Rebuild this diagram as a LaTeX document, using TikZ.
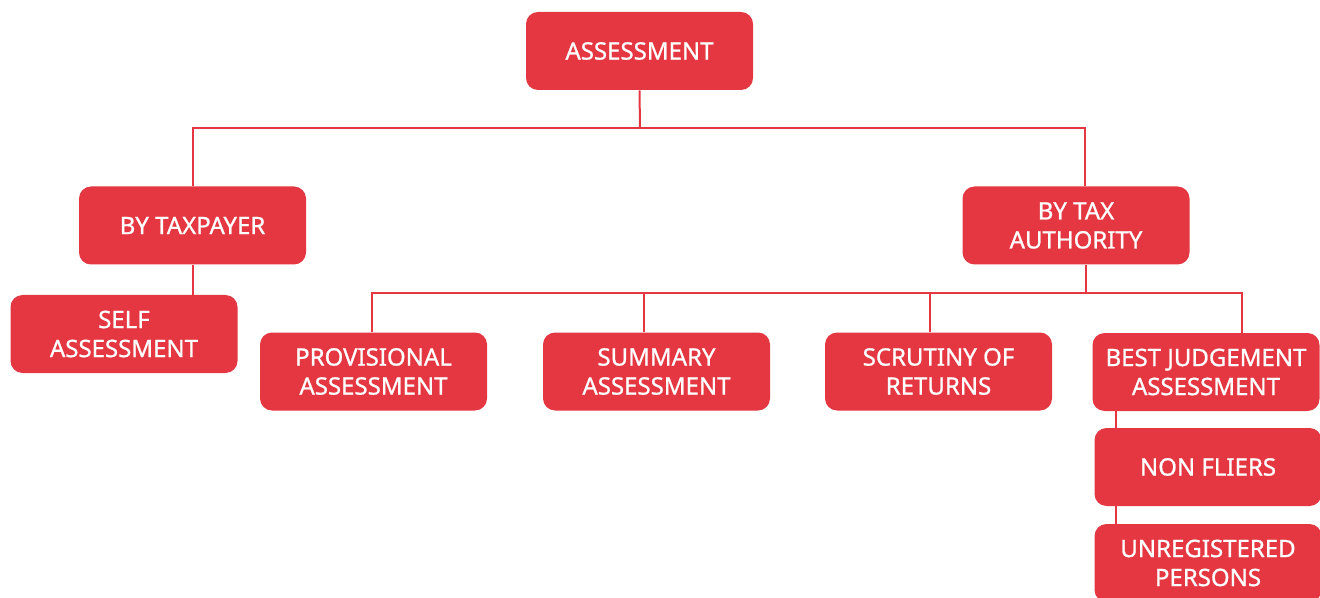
\documentclass[tikz,border=0pt]{standalone}
\usepackage{fontspec}
\setmainfont{Noto Sans}
\newfontfamily\boxfont{Noto Sans}[FakeBold=0.9]
\usetikzlibrary{calc}
\definecolor{boxred}{HTML}{E43741}

\begin{document}
\begin{tikzpicture}[x=0.5pt,y=-0.5pt,
	box/.style={fill=boxred,text=white,rounded corners=6pt,minimum width=113.5pt,minimum height=39pt,inner sep=0pt,align=center,font=\boxfont\fontsize{12}{14.5}\selectfont},
	link/.style={draw=boxred,line width=1pt}]
		\useasboundingbox (0,0) rectangle (1320,598);
		\clip (0,0) rectangle (1320,598);
		\node[box] (root) at (639.5,51) {ASSESSMENT};
		\node[box] (taxpayer) at (192.5,225.5) {BY TAXPAYER};
		\node[box] (authority) at (1076,225.5) {BY TAX\\AUTHORITY};
		\node[box] (self) at (124,334) {SELF\\ASSESSMENT};
		\node[box] (prov) at (373.5,371.5) {PROVISIONAL\\ASSESSMENT};
		\node[box] (summary) at (656.5,371.5) {SUMMARY\\ASSESSMENT};
		\node[box] (scrutiny) at (938.5,371.5) {SCRUTINY OF\\RETURNS};
		\node[box] (best) at (1206,372) {BEST JUDGEMENT\\ASSESSMENT};
		\node[box] (nonfliers) at (1208,467) {NON FLIERS};
		\node[box] (unreg) at (1208,563) {UNREGISTERED\\PERSONS};
		\coordinate (bus1) at (640,128);
		\coordinate (bus2) at (1086,293);
		\draw[link] (root.south) -- (bus1);
		\draw[link] (taxpayer.north) |- (bus1) -| ([xshift=4.5pt]authority.north);
		\draw[link] (taxpayer.south) -- (taxpayer.south |- self.north);
		\draw[link] ([xshift=5pt]authority.south) -- (bus2);
		\draw[link] ([xshift=-0.75pt]prov.north) |- (bus2) -| ([xshift=18pt]best.north);
		\draw[link] ([xshift=-6.25pt]summary.north) -- ([xshift=-6.25pt]summary.north |- bus2);
		\draw[link] ([xshift=-4.25pt]scrutiny.north) -- ([xshift=-4.25pt]scrutiny.north |- bus2);
		\draw[link] ([xshift=12pt]best.south west) -- ([xshift=12pt]best.south west |- nonfliers.north);
		\draw[link] ([xshift=12pt]best.south west |- nonfliers.south) -- ([xshift=12pt]best.south west |- unreg.north);
	\end{tikzpicture}
\end{document}
